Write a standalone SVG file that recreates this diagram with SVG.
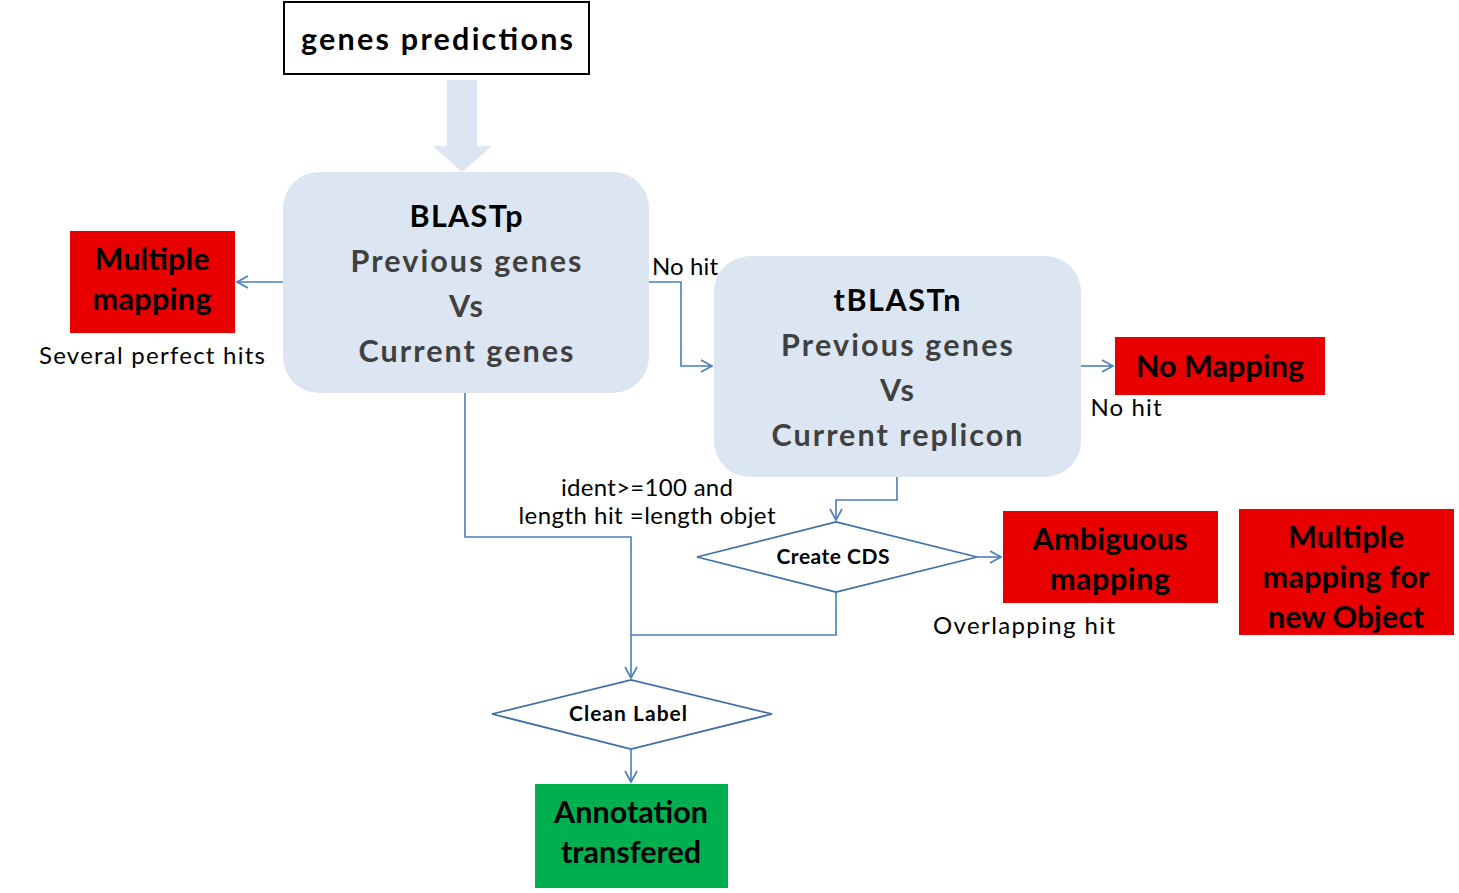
<svg xmlns="http://www.w3.org/2000/svg" width="1459" height="893" viewBox="0 0 1459 893">
<defs>
<style>
text{font-family:Lato,"Open Sans","Liberation Sans",sans-serif;text-anchor:middle}
.b{font-weight:bold}
.big{font-size:30.5px;font-weight:bold}
.gray{fill:#404040}
.lbl{font-size:24px;fill:#000}
.red{fill:#e80000}
.con{fill:none;stroke:#4a7ebb;stroke-width:1.6}
.dia{fill:#fff;stroke:#3f6fa8;stroke-width:1.8}
.blue{fill:#dce6f2}
</style>
<marker id="ah" markerWidth="14" markerHeight="14" refX="12" refY="7" orient="auto" markerUnits="userSpaceOnUse">
<path d="M1,1 L12,7 L1,13" fill="none" stroke="#4a7ebb" stroke-width="1.6"/>
</marker>
</defs>
<rect width="1459" height="893" fill="#fff"/>

<g id="genes-predictions">
<rect x="284" y="2" width="305" height="72" fill="#fff" stroke="#000" stroke-width="2"/>
<text x="437" y="50" class="big" textLength="272" lengthAdjust="spacing">genes predictions</text>
</g>

<g id="big-arrow">
<polygon points="447,80 477,80 477,146 492,146 462,172 433,146 447,146" class="blue"/>
</g>

<g id="blastp">
<rect x="283" y="172" width="366" height="221" rx="36" class="blue"/>
<text x="466" y="227" class="big" textLength="113" lengthAdjust="spacing">BLASTp</text>
<text x="466" y="272" class="big gray" textLength="231" lengthAdjust="spacing">Previous genes</text>
<text x="466" y="317" class="big gray" textLength="34" lengthAdjust="spacing">Vs</text>
<text x="466" y="362" class="big gray" textLength="215" lengthAdjust="spacing">Current genes</text>
</g>

<g id="tblastn">
<rect x="714" y="256" width="367" height="221" rx="36" class="blue"/>
<text x="897" y="311" class="big" textLength="127" lengthAdjust="spacing">tBLASTn</text>
<text x="897" y="356" class="big gray" textLength="232" lengthAdjust="spacing">Previous genes</text>
<text x="897" y="401" class="big gray" textLength="34" lengthAdjust="spacing">Vs</text>
<text x="897" y="446" class="big gray" textLength="251" lengthAdjust="spacing">Current replicon</text>
</g>

<g id="multiple-mapping">
<rect x="70" y="231" width="165" height="102" class="red"/>
<text x="152" y="270" class="big" textLength="115" lengthAdjust="spacing">Multiple</text>
<text x="152" y="310" class="big" textLength="119" lengthAdjust="spacing">mapping</text>
</g>

<g id="no-mapping">
<rect x="1115" y="337" width="210" height="58" class="red"/>
<text x="1220" y="377" class="big" textLength="168" lengthAdjust="spacing">No Mapping</text>
</g>

<g id="ambiguous-mapping">
<rect x="1003" y="511" width="215" height="92" class="red"/>
<text x="1110" y="550" class="big" textLength="155" lengthAdjust="spacing">Ambiguous</text>
<text x="1110" y="590" class="big" textLength="120" lengthAdjust="spacing">mapping</text>
</g>

<g id="multiple-mapping-new">
<rect x="1239" y="509" width="215" height="126" class="red"/>
<text x="1346" y="548" class="big" textLength="116" lengthAdjust="spacing">Multiple</text>
<text x="1346" y="588" class="big" textLength="167" lengthAdjust="spacing">mapping for</text>
<text x="1346" y="628" class="big" textLength="156" lengthAdjust="spacing">new Object</text>
</g>

<g id="create-cds">
<polygon points="697,557 836,522 977,557 836,592" class="dia"/>
<text x="833" y="564" class="b" font-size="21" textLength="113" lengthAdjust="spacing">Create CDS</text>
</g>

<g id="clean-label">
<polygon points="492,714 631,680 772,714 631,749" class="dia"/>
<text x="628" y="721" class="b" font-size="21" textLength="118" lengthAdjust="spacing">Clean Label</text>
</g>

<g id="annotation-transfered">
<rect x="535" y="784" width="193" height="104" fill="#00b050"/>
<text x="631" y="823" class="big" textLength="154" lengthAdjust="spacing">Annotation</text>
<text x="631" y="863" class="big" textLength="140" lengthAdjust="spacing">transfered</text>
</g>

<g id="connectors">
<path class="con" d="M283,282 H237" marker-end="url(#ah)"/>
<path class="con" d="M649,282 H681 V366 H712" marker-end="url(#ah)"/>
<path class="con" d="M1081,366 H1113" marker-end="url(#ah)"/>
<path class="con" d="M897,477 V500 H836 V520" marker-end="url(#ah)"/>
<path class="con" d="M977,557 H1001" marker-end="url(#ah)"/>
<path class="con" d="M465,393 V537 H631 V678" marker-end="url(#ah)"/>
<path class="con" d="M836,592 V635 H631"/>
<path class="con" d="M631,749 V782" marker-end="url(#ah)"/>
</g>

<g id="labels">
<text x="152" y="364" class="lbl" textLength="226" lengthAdjust="spacing">Several perfect hits</text>
<text x="685" y="275" class="lbl" textLength="66" lengthAdjust="spacing">No hit</text>
<text x="1126" y="416" class="lbl" textLength="71" lengthAdjust="spacing">No hit</text>
<text x="647" y="496" class="lbl" textLength="172" lengthAdjust="spacing">ident&gt;=100 and</text>
<text x="647" y="524" class="lbl" textLength="257" lengthAdjust="spacing">length hit =length objet</text>
<text x="1024" y="634" class="lbl" textLength="182" lengthAdjust="spacing">Overlapping hit</text>
</g>
</svg>
